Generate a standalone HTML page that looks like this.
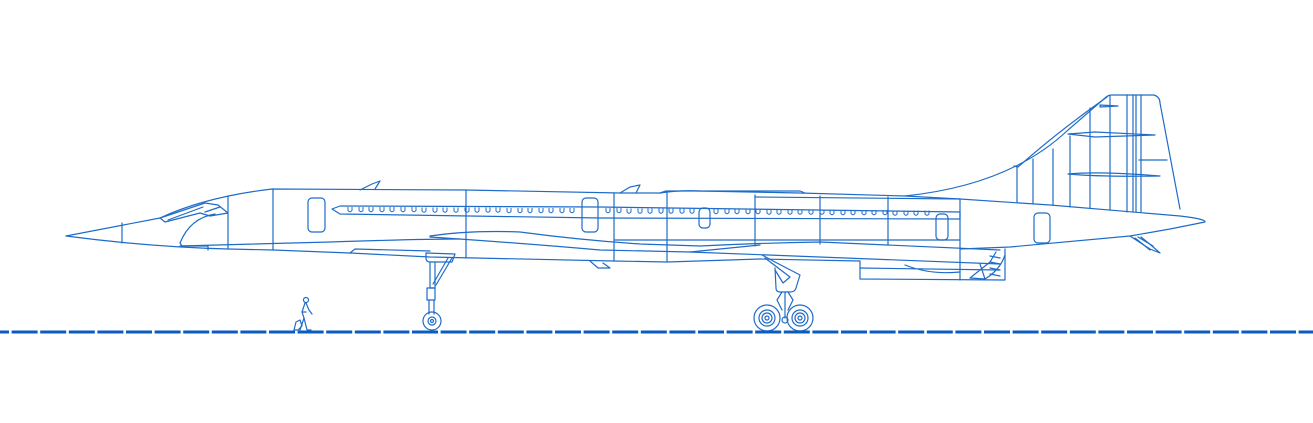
<!DOCTYPE html>
<html><head><meta charset="utf-8"><style>
html,body{margin:0;padding:0;background:#fff;}
svg{display:block;}
</style></head><body>
<svg width="1313" height="423" viewBox="0 0 1313 423" xmlns="http://www.w3.org/2000/svg" xmlns:xlink="http://www.w3.org/1999/xlink">
<defs>
<path id="w" d="M-2,0 L-2,3.5 Q0,6 2,3.5 L2,0" fill="none" stroke="#1f6cc8" stroke-width="1"/>
</defs>
<g fill="none" stroke="#1f6cc8" stroke-width="1.2" stroke-linejoin="round" stroke-linecap="round">
<path d="M66,236 L160,218 Q205,197 272,189 L466,190 L620,193 L660,193 Q680,190 700,191 L800,193 L905,196 L960,199 L1050,205 L1180,216 Q1206,219 1205,222 L1170,229 L1130,236 L1010,247 L960,249"/>
<path d="M66,236 Q150,247 228,249 L273,250 L350,253 L430,257 L614,261 L667,262 L760,259"/>
<path d="M905,196 Q1010,185 1068,130 L1105,98 Q1108,95 1112,95 L1154,95 Q1160,97 1160,103 L1180,209"/>
<path d="M1014,166 L1018,167 Q1060,130 1107,97"/>
<path d="M1017,166 L1017,202 M1033,159 L1033,203 M1053,149 L1053,205 M1070,136 L1070,207 M1090,108 L1090,208 M1110,95 L1110,210 M1127,95 L1127,212 M1133,95 L1133,212 M1136,95 L1136,212 M1141,95 L1141,212 M1139,160 L1167,160"/>
<path d="M1068,134 L1095,132 L1155,135 L1095,137 Z"/>
<path d="M1068,174 Q1100,171 1160,176 Q1100,177 1068,174 Z"/>
<path d="M1100,105 L1118,106 L1100,107 Z"/>
<path d="M122,223 L122,243"/>
<path d="M160,218 L205,203 L218,205 L228,213 L210,216 L200,213 L165,222 Z"/>
<path d="M168,220 L203,207 M205,212 L220,207"/>
<path d="M215,214 Q190,218 180,243 L182,246 L208,246 L208,250"/>
<path d="M228,196 L228,249 M273,189 L273,250"/>
<path d="M180,246 L330,242 Q420,239 460,239"/>
<path d="M332,209 L340,206 L600,207 L960,212 L960,219 L600,218 L340,214 Z"/>
<path d="M466,190 L466,258 M614,193 L614,261 M667,193 L667,262 M755,195 L755,246 M820,196 L820,244 M888,197 L888,245 M960,199 L960,249"/>
<path d="M614,240 L960,240 M755,197 L960,199"/>
<path d="M660,193 L666,191 L800,191 L805,193"/>
<rect x="308" y="198" width="17" height="34" rx="4"/>
<rect x="582" y="198" width="16" height="34" rx="4"/>
<rect x="699" y="208" width="11" height="20" rx="4"/>
<rect x="936" y="214" width="12" height="26" rx="4"/>
<rect x="1034" y="213" width="16" height="30" rx="4"/>
<path d="M360,190 L372,184 L380,181 L375,189"/>
<path d="M620,193 L630,187 L640,185 L636,193"/>
<path d="M430,236 Q470,230 520,232 Q580,240 640,244 L700,246 Q760,243 820,242 L1000,250"/>
<path d="M430,237 Q520,243 600,250 L690,252 L1000,264"/>
<path d="M690,252 L760,245"/>
<path d="M760,259 L860,261 L860,279 L1005,280 L1005,249"/>
<path d="M860,268 L1000,270 M905,265 Q930,275 960,272"/>
<path d="M960,249 L960,280 M980,264 L985,279 M996,252 L990,262 L970,278 L985,279 Q1000,270 1005,255"/>
<path d="M990,256 L1000,258 M990,262 L1000,264 M990,268 L1000,270 M990,274 L1000,276"/>
<path d="M1130,236 L1150,249 L1160,253 L1152,246 L1141,237"/>
<path d="M1135,238 L1150,250 M1138,237 L1153,246"/>
<path d="M590,261 L598,268 L610,268 L603,263"/>
<path d="M350,253 L355,249 L430,251"/>
<path d="M426,253 L455,254 L452,262 L430,262 Q426,262 426,258 Z"/>
<path d="M430,262 L430,288 L435,288 L435,262"/>
<path d="M452,258 L436,285 M448,258 L433,284"/>
<rect x="427" y="288" width="8" height="12"/>
<path d="M429,300 L429,314 M434,300 L434,314"/>
<circle cx="432" cy="321" r="9"/>
<circle cx="432" cy="321" r="4"/>
<circle cx="432" cy="321" r="1.5"/>
<path d="M762,255 L775,262 L800,275 L796,288 Q795,292 790,292 L780,292 Q776,292 776,288 L775,268"/>
<path d="M765,258 L790,277 L783,283 L775,270"/>
<path d="M782,292 L777,300 L782,310 M788,292 L793,300 L788,310 M785,292 L785,318"/>
<circle cx="785" cy="320" r="3"/>
<circle cx="767" cy="318" r="13"/><circle cx="767" cy="318" r="8"/><circle cx="767" cy="318" r="5"/><circle cx="767" cy="318" r="2"/>
<circle cx="800" cy="318" r="13"/><circle cx="800" cy="318" r="8"/><circle cx="800" cy="318" r="5"/><circle cx="800" cy="318" r="2"/>
<circle cx="306" cy="300" r="2.5"/>
<path d="M305,303 L302,312 L304,318 L300,330 M306,303 L309,310 L312,314 M304,318 L307,330 L311,330 M303,312 L306,312"/>
<path d="M296,322 L300,320 L302,326 L298,330 L294,330 Z"/>
</g>
<g>
<use xlink:href="#w" x="350" y="207"/><use xlink:href="#w" x="361" y="207"/><use xlink:href="#w" x="371" y="207"/><use xlink:href="#w" x="382" y="207"/><use xlink:href="#w" x="392" y="207"/><use xlink:href="#w" x="403" y="207"/><use xlink:href="#w" x="414" y="207"/><use xlink:href="#w" x="424" y="207.5"/><use xlink:href="#w" x="435" y="207.5"/><use xlink:href="#w" x="445" y="207.5"/><use xlink:href="#w" x="456" y="207.5"/><use xlink:href="#w" x="467" y="207.5"/><use xlink:href="#w" x="477" y="207.5"/><use xlink:href="#w" x="488" y="207.5"/><use xlink:href="#w" x="498" y="207.5"/><use xlink:href="#w" x="509" y="208"/><use xlink:href="#w" x="520" y="208"/><use xlink:href="#w" x="530" y="208"/><use xlink:href="#w" x="541" y="208"/><use xlink:href="#w" x="551" y="208"/><use xlink:href="#w" x="562" y="208"/><use xlink:href="#w" x="572" y="208"/>
<use xlink:href="#w" x="608" y="208"/><use xlink:href="#w" x="619" y="208"/><use xlink:href="#w" x="629" y="208.5"/><use xlink:href="#w" x="640" y="208.5"/><use xlink:href="#w" x="650" y="208.5"/><use xlink:href="#w" x="661" y="208.5"/><use xlink:href="#w" x="671" y="208.5"/><use xlink:href="#w" x="682" y="208.5"/><use xlink:href="#w" x="692" y="208.5"/><use xlink:href="#w" x="716" y="209"/><use xlink:href="#w" x="727" y="209"/><use xlink:href="#w" x="737" y="209"/><use xlink:href="#w" x="748" y="209"/><use xlink:href="#w" x="758" y="209"/><use xlink:href="#w" x="769" y="209.5"/><use xlink:href="#w" x="779" y="209.5"/><use xlink:href="#w" x="790" y="209.5"/><use xlink:href="#w" x="800" y="209.5"/><use xlink:href="#w" x="811" y="209.5"/><use xlink:href="#w" x="822" y="209.5"/><use xlink:href="#w" x="832" y="210"/><use xlink:href="#w" x="843" y="210"/><use xlink:href="#w" x="853" y="210"/><use xlink:href="#w" x="864" y="210"/><use xlink:href="#w" x="874" y="210"/><use xlink:href="#w" x="885" y="210"/><use xlink:href="#w" x="895" y="210.5"/><use xlink:href="#w" x="906" y="210.5"/><use xlink:href="#w" x="916" y="210.5"/><use xlink:href="#w" x="927" y="210.5"/>
</g>
<line x1="-17" y1="332" x2="1313" y2="332" stroke="#0a5cbf" stroke-width="3" stroke-dasharray="26 2.6"/>
</svg>
</body></html>
